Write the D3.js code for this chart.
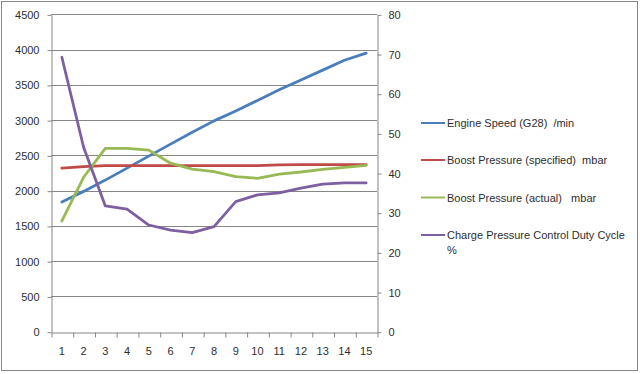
<!DOCTYPE html>
<html>
<head>
<meta charset="utf-8">
<script src="https://cdn.jsdelivr.net/npm/d3@7"></script>
<style>
  body { margin: 0; background: #fff; }
  svg { display: block; font-family: "Liberation Sans", Arial, sans-serif; }
  .lbl { font-size: 11px; fill: #2e2e2e; white-space: pre; }
</style>
</head>
<body>
<div class="chart"></div>
<script>
// step numbers along the x axis
const steps = d3.range(1, 16);

// left axis values (/min and mbar)
const engineSpeed = [1840, 1990, 2150, 2320, 2490, 2660, 2830, 2990, 3130, 3280, 3430, 3570, 3710, 3850, 3950];
const boostSpecified = [2320, 2340, 2355, 2355, 2355, 2355, 2355, 2355, 2355, 2355, 2365, 2370, 2370, 2370, 2370];
const boostActual = [1570, 2190, 2600, 2600, 2575, 2390, 2305, 2270, 2200, 2175, 2235, 2265, 2303, 2331, 2360];
// right axis values (%)
const dutyCycle = [69.2, 46.5, 31.7, 30.9, 26.9, 25.6, 25.0, 26.5, 32.8, 34.5, 35.0, 36.2, 37.2, 37.5, 37.5];

const leftTicks = d3.range(0, 4501, 500);
const rightTicks = d3.range(0, 81, 10);

const seriesNames = ['Engine Speed (G28)  /min', 'Boost Pressure (specified)  mbar', 'Boost Pressure (actual)   mbar', 'Charge Pressure Control Duty Cycle'];
const seriesColors = ['#4a7ebb', '#be4b48', '#98b954', '#7d60a0'];

const W = 640, H = 374;
const plot = { left: 51, right: 377, top: 14.4, bottom: 331.7 };
const gridColor = '#868686';

const svg = d3.select('.chart').append('svg').attr('width', W).attr('height', H);

// outer chart border
svg.append('rect')
  .attr('x', 1.5).attr('y', 1.5).attr('width', 636).attr('height', 369)
  .attr('fill', '#fff').attr('stroke', gridColor);

const x = d3.scaleBand().domain(steps).range([plot.left, plot.right]).padding(0);
const xEdge = d3.scaleLinear().domain([0, steps.length]).range([plot.left, plot.right]);
const yLeft = d3.scaleLinear().domain([0, 4500]).range([plot.bottom, plot.top]);
const yRight = d3.scaleLinear().domain([0, 80]).range([plot.bottom, plot.top]);

// gridlines
svg.append('g')
  .selectAll('line')
  .data(leftTicks.slice(1))
  .join('line')
  .attr('x1', plot.left).attr('x2', plot.right)
  .attr('y1', d => Math.round(yLeft(d)) + 0.5).attr('y2', d => Math.round(yLeft(d)) + 0.5)
  .attr('stroke', gridColor);

const styleAxis = g => {
  g.select('.domain').attr('stroke', gridColor);
  g.selectAll('.tick line').attr('stroke', gridColor);
  g.selectAll('.tick text').attr('class', 'lbl').attr('font-family', null).attr('font-size', null).attr('fill', null);
};

// left axis
svg.append('g')
  .attr('transform', `translate(${plot.left + 0.5},0.5)`)
  .call(d3.axisLeft(yLeft).tickValues(leftTicks).tickSize(4).tickSizeOuter(0).tickPadding(8).tickFormat(d3.format('d')))
  .call(styleAxis);

// right axis
svg.append('g')
  .attr('transform', `translate(${plot.right + 0.5},0.5)`)
  .call(d3.axisRight(yRight).tickValues(rightTicks).tickSize(4).tickSizeOuter(0).tickPadding(7).tickFormat(d3.format('d')))
  .call(styleAxis);

// bottom axis: ticks at category boundaries, labels at centers
svg.append('g')
  .attr('transform', `translate(0.5,${Math.round(plot.bottom) + 0.5})`)
  .call(d3.axisBottom(xEdge).tickValues(d3.range(0, steps.length + 1)).tickSize(5).tickSizeOuter(0).tickFormat(''))
  .call(styleAxis);

svg.append('g')
  .attr('transform', `translate(0,${Math.round(plot.bottom) + 0.5})`)
  .call(d3.axisBottom(x).tickSize(0).tickPadding(15))
  .call(g => g.select('.domain').remove())
  .call(styleAxis);

// lines
const series = [
  { values: engineSpeed, y: yLeft },
  { values: boostSpecified, y: yLeft },
  { values: boostActual, y: yLeft },
  { values: dutyCycle, y: yRight }
];

series.forEach((s, i) => {
  const line = d3.line()
    .x((d, j) => x(steps[j]) + x.bandwidth() / 2)
    .y(d => s.y(d));
  svg.append('path')
    .datum(s.values)
    .attr('d', line)
    .attr('fill', 'none')
    .attr('stroke', seriesColors[i])
    .attr('stroke-width', 2.8)
    .attr('stroke-linejoin', 'round')
    .attr('stroke-linecap', 'round');
});

// legend
const legendY = [123, 160, 197.5, 235];
const legend = svg.append('g');
seriesNames.forEach((name, i) => {
  legend.append('line')
    .attr('x1', 421).attr('x2', 445)
    .attr('y1', legendY[i]).attr('y2', legendY[i])
    .attr('stroke', seriesColors[i]).attr('stroke-width', 2);
  const t = legend.append('text')
    .attr('class', 'lbl')
    .attr('x', 447).attr('y', legendY[i] + 4);
  t.append('tspan').text(name);
  if (i === 3) {
    t.append('tspan').attr('x', 447).attr('dy', 15).text('%');
  }
});
</script>
</body>
</html>
